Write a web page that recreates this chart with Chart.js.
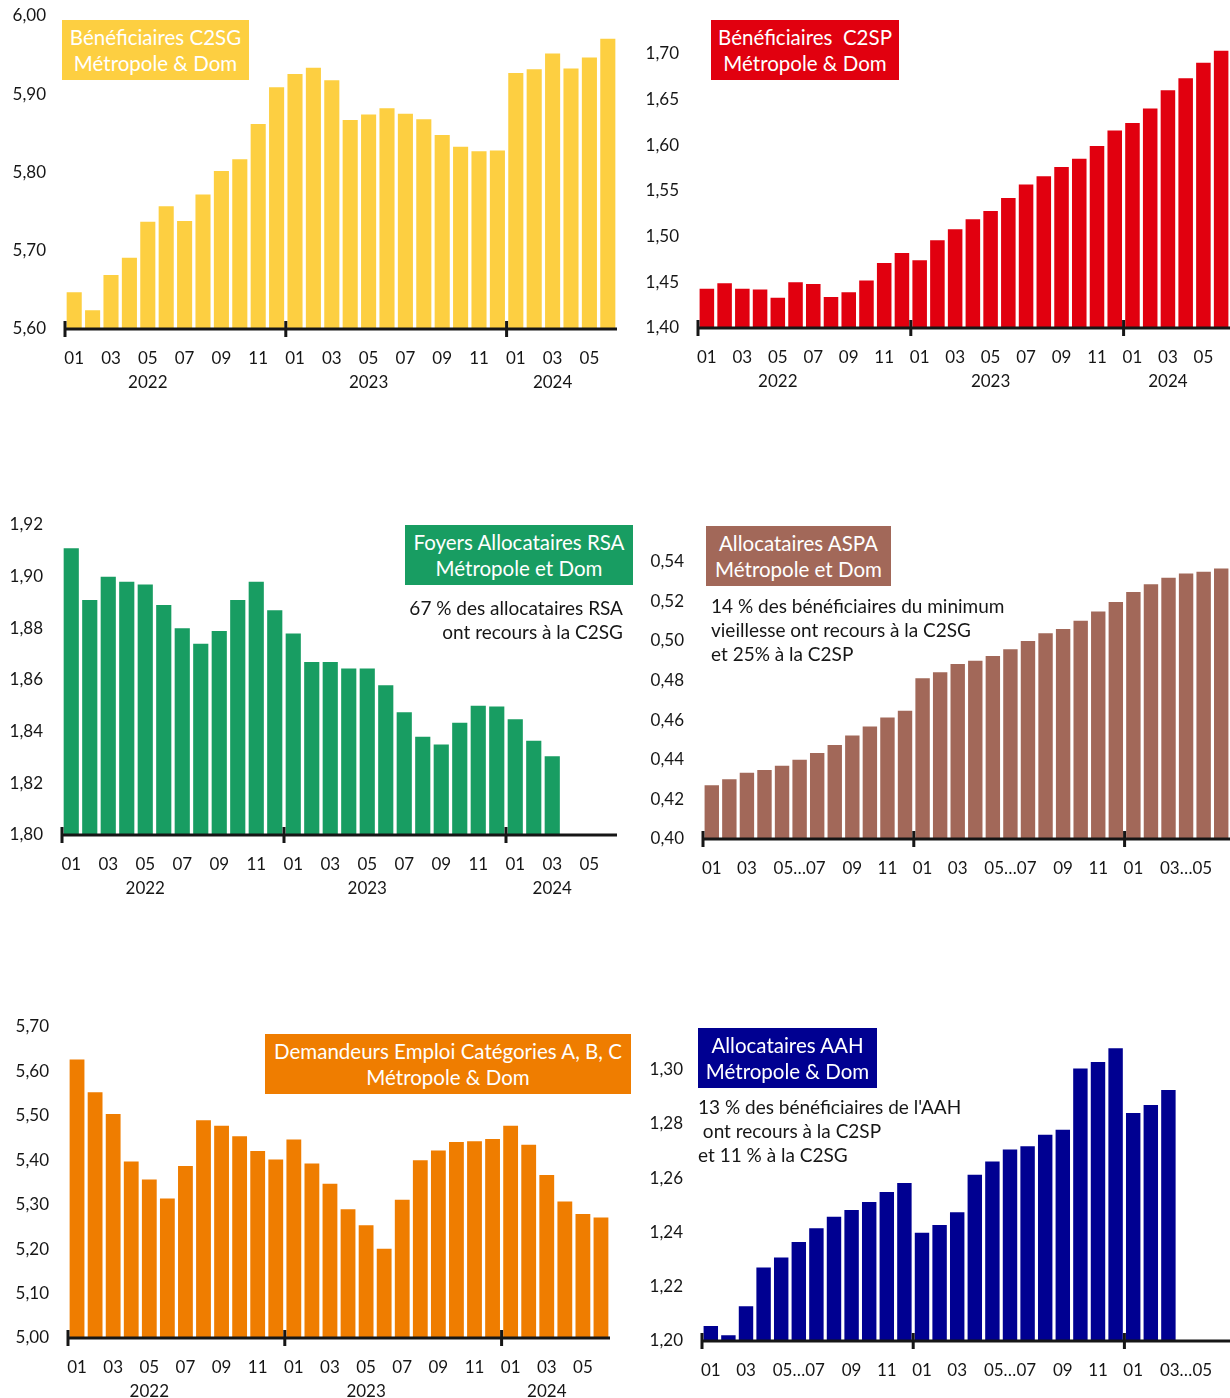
<!DOCTYPE html>
<html lang="fr">
<head>
<meta charset="utf-8">
<script src="https://cdn.jsdelivr.net/npm/chart.js@4.4.0/dist/chart.umd.min.js"></script>
<style>
body { margin: 0; background: #fff; width: 1230px; height: 1398px; position: relative; overflow: hidden; font-family: Lato, sans-serif; color: #161616; }
canvas { position: absolute; }
.box { position: absolute; color: #fff; font-size: 20.5px; line-height: 26px; text-align: center; display: flex; flex-direction: column; justify-content: center; white-space: pre; }
.note { position: absolute; font-size: 19px; line-height: 24px; color: #161616; white-space: pre; }
</style>
</head>
<body>

<canvas id="c2sg" width="625" height="400" style="left:0px;top:0px"></canvas>
<canvas id="c2sp" width="600" height="400" style="left:630px;top:0px"></canvas>
<canvas id="rsa" width="625" height="400" style="left:0px;top:500px"></canvas>
<canvas id="aspa" width="600" height="400" style="left:630px;top:500px"></canvas>
<canvas id="de" width="625" height="398" style="left:0px;top:1000px"></canvas>
<canvas id="aah" width="600" height="398" style="left:630px;top:1000px"></canvas>

<div class="box" style="left:62px;top:20px;width:187px;height:60px;background:#FDCF41"><div>Bénéficiaires C2SG</div><div>Métropole &amp; Dom</div></div>
<div class="box" style="left:711px;top:20px;width:188px;height:60px;background:#E1000F"><div>Bénéficiaires  C2SP</div><div>Métropole &amp; Dom</div></div>
<div class="box" style="left:405px;top:525px;width:228px;height:60px;background:#189D62"><div>Foyers Allocataires RSA</div><div>Métropole et Dom</div></div>
<div class="note" style="right:607px;top:596px;text-align:right">67 % des allocataires RSA
ont recours à la C2SG</div>
<div class="box" style="left:706px;top:526px;width:185px;height:60px;background:#A26859"><div>Allocataires ASPA</div><div>Métropole et Dom</div></div>
<div class="note" style="left:711px;top:594px">14 % des bénéficiaires du minimum
vieillesse ont recours à la C2SG
et 25% à la C2SP</div>
<div class="box" style="left:265px;top:1034px;width:366px;height:60px;background:#EF7D00"><div>Demandeurs Emploi Catégories A, B, C</div><div>Métropole &amp; Dom</div></div>
<div class="box" style="left:698px;top:1028px;width:179px;height:60px;background:#000091"><div>Allocataires AAH</div><div>Métropole &amp; Dom</div></div>
<div class="note" style="left:698px;top:1095px">13 % des bénéficiaires de l'AAH
 ont recours à la C2SP
et 11 % à la C2SG</div>

<script>
const FONT = 'Lato, sans-serif';

// months shown on every panel
const months = ['2022-01','2022-02','2022-03','2022-04','2022-05','2022-06','2022-07','2022-08','2022-09','2022-10','2022-11','2022-12',
                '2023-01','2023-02','2023-03','2023-04','2023-05','2023-06','2023-07','2023-08','2023-09','2023-10','2023-11','2023-12',
                '2024-01','2024-02','2024-03','2024-04','2024-05','2024-06'];

// tick labels
const monthTicks = ['01','','03','','05','','07','','09','','11','',
                    '01','','03','','05','','07','','09','','11','',
                    '01','','03','','05',''];
const monthTicksShort = ['01','','03','','','05…07','','','09','','11','',
                         '01','','03','','','05…07','','','09','','11','',
                         '01','','','03…05','',''];
const yearTicks = ['','','','','2022','','','','','','','',
                   '','','','','2023','','','','','','','',
                   '','','2024','','',''];

// values (millions)
const c2sg = [5.647,5.624,5.669,5.691,5.737,5.757,5.738,5.772,5.802,5.817,5.862,5.909,
              5.926,5.934,5.918,5.867,5.874,5.882,5.875,5.868,5.848,5.833,5.827,5.828,
              5.927,5.932,5.952,5.933,5.947,5.971];
const c2sp = [1.443,1.449,1.443,1.442,1.433,1.450,1.448,1.434,1.439,1.452,1.471,1.482,
              1.474,1.496,1.508,1.519,1.528,1.542,1.557,1.566,1.576,1.585,1.599,1.616,
              1.624,1.640,1.660,1.673,1.690,1.703];
const rsa = [1.911,1.891,1.900,1.898,1.897,1.889,1.880,1.874,1.879,1.891,1.898,1.887,
             1.878,1.867,1.867,1.8645,1.8645,1.858,1.8475,1.838,1.835,1.8435,1.850,1.8497,
             1.8448,1.8365,1.8305,null,null,null];
const aspa = [0.4272,0.4302,0.4334,0.4348,0.4370,0.4400,0.4434,0.4475,0.4522,0.4568,0.4613,0.4648,
              0.4812,0.4842,0.4884,0.4900,0.4924,0.4958,0.5000,0.5039,0.5060,0.5102,0.5149,0.5196,
              0.5247,0.5286,0.5319,0.5341,0.5349,0.5366];
const demandeurs = [5.627,5.553,5.504,5.397,5.357,5.314,5.387,5.490,5.478,5.454,5.421,5.402,
                    5.447,5.393,5.347,5.290,5.254,5.201,5.311,5.400,5.422,5.441,5.443,5.448,
                    5.478,5.435,5.367,5.307,5.279,5.271];
const aah = [1.2055,1.2021,1.2128,1.2271,1.2308,1.2365,1.2416,1.2458,1.2483,1.2512,1.2549,1.2582,
             1.2399,1.2428,1.2475,1.2613,1.2662,1.2706,1.2718,1.2760,1.2779,1.3004,1.3028,1.3079,
             1.2840,1.2870,1.2925,null,null,null];

// black axis line + marks at each january
const axisLine = {
    id: 'axisLine',
    afterDatasetsDraw(chart) {
        const ctx = chart.ctx;
        const a = chart.chartArea;
        const x = chart.scales.x;
        const half = (x.getPixelForValue(1) - x.getPixelForValue(0)) / 2;
        ctx.save();
        ctx.strokeStyle = '#161616';
        ctx.lineWidth = 3;
        ctx.beginPath();
        ctx.moveTo(a.left, a.bottom);
        ctx.lineTo(a.right, a.bottom);
        chart.data.labels.forEach(function(m, i) {
            if (m.endsWith('-01')) {
                let px = x.getPixelForValue(i) - half;
                ctx.moveTo(px, a.bottom - 8);
                ctx.lineTo(px, a.bottom + 8);
            }
        });
        ctx.stroke();
        ctx.restore();
    }
};

function fmt(v, step) {
    // only label round steps (the top of the scale is left blank)
    if (Math.abs(v / step - Math.round(v / step)) > 1e-6) return '';
    return v.toFixed(2).replace('.', ',');
}

function drawPanel(id, values, color, cfg) {
    let hidden = { display: true, drawOnChartArea: false, drawTicks: true, color: 'rgba(0,0,0,0)' };
    let tickFont = { family: FONT, size: 17 };

    let scales = {
        x: {
            type: 'category',
            offset: true,
            grid: Object.assign({ tickLength: 19 }, hidden),
            border: { display: false },
            ticks: {
                autoSkip: false, maxRotation: 0, minRotation: 0, padding: 0,
                color: '#161616', font: tickFont,
                callback: (v, i) => cfg.ticks[i]
            },
            afterFit: s => { s.height = cfg.years ? 40 : cfg.xHeight; }
        },
        y: {
            type: 'linear',
            min: cfg.min, max: cfg.max,
            bounds: 'data',
            grid: Object.assign({ tickLength: 19 }, hidden),
            border: { display: false },
            ticks: {
                stepSize: cfg.step, includeBounds: false, padding: 0,
                color: '#161616', font: tickFont,
                callback: v => fmt(v, cfg.step)
            },
            afterFit: s => { s.width = cfg.yWidth; }
        }
    };
    if (cfg.years) {
        scales.xYear = {
            type: 'category',
            position: 'bottom',
            weight: 1,
            offset: true,
            grid: Object.assign({ tickLength: 3 }, hidden),
            border: { display: false },
            ticks: {
                autoSkip: false, maxRotation: 0, minRotation: 0, padding: 0,
                color: '#161616', font: tickFont,
                callback: (v, i) => cfg.years[i]
            },
            afterFit: s => { s.height = cfg.xHeight - 40; }
        };
    }

    new Chart(document.getElementById(id).getContext('2d'), {
        type: 'bar',
        data: {
            labels: months,
            datasets: [{
                data: values,
                backgroundColor: color,
                borderWidth: 0,
                categoryPercentage: 1,
                barPercentage: 0.82
            }]
        },
        options: {
            responsive: false,
            animation: false,
            devicePixelRatio: 1,
            layout: { padding: { top: cfg.padTop, right: cfg.padRight, left: 0, bottom: 0 } },
            plugins: { legend: { display: false }, tooltip: { enabled: false } },
            scales: scales
        },
        plugins: [axisLine]
    });
}

drawPanel('c2sg', c2sg, '#FDCF41', { min: 5.6, max: 6.0, step: 0.1, yWidth: 65, padTop: 16, padRight: 8, xHeight: 71, ticks: monthTicks, years: yearTicks });
drawPanel('c2sp', c2sp, '#E1000F', { min: 1.4, max: 1.74, step: 0.05, yWidth: 68, padTop: 17, padRight: 0, xHeight: 72, ticks: monthTicks, years: yearTicks });
drawPanel('rsa', rsa, '#189D62', { min: 1.8, max: 1.92, step: 0.02, yWidth: 62, padTop: 25, padRight: 8, xHeight: 65, ticks: monthTicks, years: yearTicks });
drawPanel('aspa', aspa, '#A26859', { min: 0.4, max: 0.555, step: 0.02, yWidth: 73, padTop: 32, padRight: 0, xHeight: 61, ticks: monthTicksShort, years: null });
drawPanel('de', demandeurs, '#EF7D00', { min: 5.0, max: 5.7, step: 0.1, yWidth: 68, padTop: 27, padRight: 15, xHeight: 60, ticks: monthTicks, years: yearTicks });
drawPanel('aah', aah, '#000091', { min: 1.2, max: 1.315, step: 0.02, yWidth: 72, padTop: 29, padRight: 0, xHeight: 57, ticks: monthTicksShort, years: null });
</script>
</body>
</html>
